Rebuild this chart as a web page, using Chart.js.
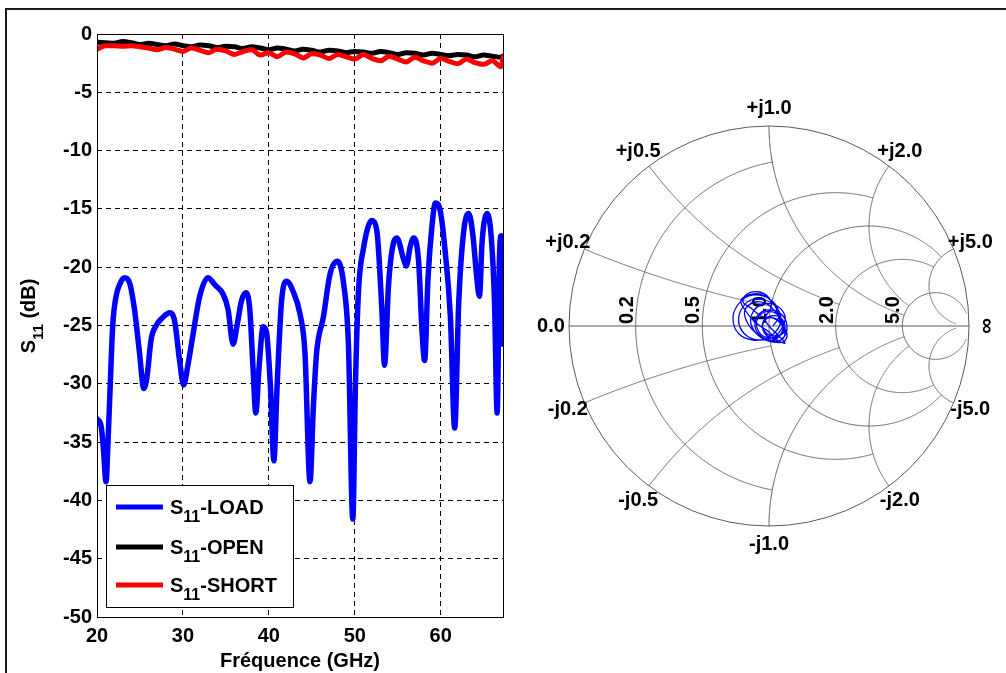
<!DOCTYPE html>
<html>
<head>
<meta charset="utf-8">
<script src="https://cdn.jsdelivr.net/npm/chart.js@4.4.1/dist/chart.umd.min.js"></script>
<style>
  body { margin: 0; background: #fff; width: 1006px; height: 673px; overflow: hidden; position: relative; }
  #frame { position: absolute; left: 5px; top: 8px; width: 1020px; height: 700px; border: 2px solid #1a1a1a; }
  #s11 { position: absolute; left: 0; top: 0; }
  #smith { position: absolute; left: 529px; top: 86px; }
</style>
</head>
<body>
<div id="frame"></div>
<canvas id="s11" width="515" height="673"></canvas>
<canvas id="smith" width="477" height="480"></canvas>
<script>
const FONT = '"Liberation Sans", Arial, Helvetica, sans-serif';

// S11 LOAD (GHz / dB)
const freqLoad = [20.0,20.47,20.74,21.05,21.28,21.52,21.83,22.22,22.68,23.19,23.77,24.36,24.94,25.45,25.80,26.30,26.89,27.67,28.44,29.03,29.61,30.08,30.58,31.17,31.95,32.92,33.70,34.67,35.25,35.84,36.30,36.81,37.32,37.78,38.17,38.48,38.87,39.34,39.73,40.19,40.58,40.97,41.48,42.06,42.84,43.62,44.20,44.79,45.18,45.56,46.34,47.12,47.98,48.68,49.26,49.77,50.08,50.43,51.01,51.98,52.57,53.15,53.46,53.93,54.51,54.90,55.68,55.99,56.46,56.85,57.43,57.82,58.13,58.52,58.98,59.38,59.96,60.54,61.13,61.63,62.10,62.68,63.27,63.77,64.16,64.51,64.82,65.41,65.88,66.26,66.57,66.84,67.04,67.25];
const loadDb = [-33.0,-33.6,-35.5,-38.4,-35.0,-30.5,-25.0,-22.5,-21.4,-20.9,-21.3,-23.6,-27.3,-30.4,-29.5,-26.2,-25.0,-24.3,-23.9,-24.6,-28.0,-30.1,-28.4,-25.8,-22.5,-20.9,-21.5,-22.3,-23.6,-26.6,-25.0,-22.9,-22.2,-23.6,-28.8,-32.5,-28.5,-25.1,-25.6,-30.3,-36.6,-30.0,-22.9,-21.2,-22.1,-24.0,-27.3,-38.4,-32.0,-27.3,-24.3,-20.6,-19.5,-21.3,-26.6,-41.6,-30.0,-22.1,-18.4,-16.0,-16.9,-23.6,-28.4,-21.5,-17.9,-17.5,-19.3,-19.9,-18.2,-17.5,-19.5,-25.4,-28.0,-21.0,-16.5,-14.5,-15.2,-18.8,-24.3,-33.8,-23.0,-16.9,-15.4,-17.4,-20.6,-22.5,-17.8,-15.4,-17.4,-22.9,-32.5,-19.1,-17.3,-26.6];

// S11 OPEN / SHORT
const freqRef = [20,21,22,23,24,25,26,27,28,29,30,31,32,33,34,35,36,37,38,39,40,41,42,43,44,45,46,47,48,49,50,51,52,53,54,55,56,57,58,59,60,61,62,63,64,65,66,67,67.25];
const openDb = [-0.7,-0.75,-0.8,-0.65,-0.75,-0.9,-0.8,-0.9,-1.0,-0.85,-1.0,-1.1,-0.95,-1.0,-1.15,-1.05,-1.1,-1.25,-1.1,-1.2,-1.35,-1.2,-1.3,-1.45,-1.3,-1.4,-1.55,-1.4,-1.45,-1.6,-1.5,-1.55,-1.65,-1.5,-1.6,-1.75,-1.6,-1.65,-1.8,-1.65,-1.75,-1.85,-1.75,-1.8,-1.95,-1.8,-1.9,-2.0,-1.9];
const shortDb = [-1.3,-1.0,-1.0,-1.05,-1.0,-1.1,-1.2,-1.35,-1.15,-1.3,-1.5,-1.2,-1.4,-1.6,-1.3,-1.45,-1.75,-1.5,-1.35,-1.8,-1.6,-1.95,-1.55,-1.7,-2.05,-1.7,-1.8,-2.1,-1.75,-1.95,-2.15,-1.75,-2.1,-2.3,-1.9,-2.15,-2.4,-2.0,-2.3,-2.5,-2.1,-2.35,-2.55,-2.15,-2.45,-2.6,-2.3,-2.8,-2.0];

const xTicks = [20, 30, 40, 50, 60];
const yTicks = [0, -5, -10, -15, -20, -25, -30, -35, -40, -45, -50];
const seriesNames = ['S11-LOAD', 'S11-OPEN', 'S11-SHORT'];

// Smith chart trace (reflection coefficient, real / imag)
const smithRe = [0.02,0.05,0.03,-0.03,-0.10,-0.16,-0.18,-0.15,-0.08,-0.01,0.04,0.06,0.04,-0.02,-0.09,-0.14,-0.15,-0.11,-0.04,0.03,0.07,0.08,0.04,-0.03,-0.08,-0.09,-0.05,0.02,0.07,0.09,0.07,0.01,-0.05,-0.07,-0.04,0.02,0.06,0.07,0.04,-0.02,-0.06,-0.05,0.0,0.05,0.08,0.06,0.01,-0.03,-0.02,0.03,0.07,0.06,0.02,-0.04,-0.09,-0.13,-0.11,-0.05,0.0,0.01,-0.02,0.0,0.04,0.08,0.05,0.03,0.0,-0.07,-0.12,-0.14,-0.08,-0.02,0.03,0.05,0.08,0.06,0.0,-0.06,-0.11,-0.12,-0.07,-0.01,0.04,0.07,0.05,0.01,-0.03,-0.02,0.02,0.06,0.09,0.07,0.02];
const smithIm = [0.0,0.05,0.11,0.15,0.15,0.10,0.03,-0.04,-0.07,-0.06,-0.02,0.03,0.09,0.13,0.13,0.08,0.01,-0.05,-0.07,-0.05,0.0,0.05,0.10,0.11,0.07,0.01,-0.05,-0.08,-0.06,-0.01,0.05,0.08,0.06,0.0,-0.05,-0.07,-0.04,0.01,0.06,0.07,0.03,-0.03,-0.06,-0.05,-0.02,0.04,0.05,0.02,-0.03,-0.05,-0.03,0.02,0.04,0.05,0.09,0.12,0.16,0.17,0.14,0.09,0.04,0.0,-0.04,-0.085,-0.075,-0.06,-0.03,0.02,0.08,0.13,0.16,0.15,0.10,0.04,-0.03,-0.07,-0.07,-0.04,0.02,0.08,0.12,0.11,0.06,0.0,-0.05,-0.06,-0.02,0.03,0.04,0.01,-0.04,-0.08,-0.08];

// Smith grid values (MATLAB style: circle value / where it stops)
const gridValues = [0.2, 0.5, 1.0, 2.0, 5.0];
const gridLimits = [1, 2, 5, 5, 30];

function drawSubText(ctx, x, y, main, sub, rest, size, subSize) {
    ctx.font = 'bold ' + size + 'px ' + FONT;
    ctx.fillText(main, x, y);
    x += ctx.measureText(main).width;
    ctx.font = 'bold ' + subSize + 'px ' + FONT;
    ctx.fillText(sub, x, y + Math.round(size * 0.4));
    x += ctx.measureText(sub).width;
    ctx.font = 'bold ' + size + 'px ' + FONT;
    ctx.fillText(rest, x, y);
}

// legend box, y title and plot frame for the S11 plot
const s11Deco = {
    id: 's11Deco',
    afterDatasetsDraw(chart) {
        const ctx = chart.ctx;
        const a = chart.chartArea;
        ctx.save();
        ctx.strokeStyle = '#000';
        ctx.lineWidth = 1;
        ctx.strokeRect(Math.round(a.left) + 0.5, Math.round(a.top) + 0.5, Math.round(a.right - a.left), Math.round(a.bottom - a.top));

        // legend
        ctx.fillStyle = '#fff';
        ctx.fillRect(106.5, 485.5, 187, 122);
        ctx.strokeRect(106.5, 485.5, 187, 122);
        const rows = [507, 547, 585];
        chart.data.datasets.forEach((ds, i) => {
            ctx.strokeStyle = ds.borderColor;
            ctx.lineWidth = 5;
            ctx.beginPath();
            ctx.moveTo(116, rows[i]);
            ctx.lineTo(163, rows[i]);
            ctx.stroke();
            ctx.fillStyle = '#000';
            ctx.textBaseline = 'alphabetic';
            ctx.textAlign = 'left';
            const name = ds.label;
            drawSubText(ctx, 170, rows[i] + 7, name.slice(0, 1), name.slice(1, 3), name.slice(3), 20, 16);
        });

        // y axis title S11 (dB)
        ctx.translate(35, 316);
        ctx.rotate(-Math.PI / 2);
        ctx.font = 'bold 20px ' + FONT;
        const w1 = ctx.measureText('S').width, w3 = ctx.measureText(' (dB)').width;
        ctx.font = 'bold 15px ' + FONT;
        const w2 = ctx.measureText('11').width;
        ctx.fillStyle = '#000';
        drawSubText(ctx, -(w1 + w2 + w3) / 2, 0, 'S', '11', ' (dB)', 20, 15);
        ctx.restore();
    }
};

new Chart(document.getElementById('s11'), {
    type: 'line',
    data: {
        datasets: [
            { label: seriesNames[0], data: freqLoad.map((f, i) => ({ x: f, y: loadDb[i] })), borderColor: '#0000ff', borderWidth: 5.5, order: 2 },
            { label: seriesNames[1], data: freqRef.map((f, i) => ({ x: f, y: openDb[i] })), borderColor: '#000000', borderWidth: 5, order: 1 },
            { label: seriesNames[2], data: freqRef.map((f, i) => ({ x: f, y: shortDb[i] })), borderColor: '#ff0000', borderWidth: 5, order: 0 }
        ]
    },
    options: {
        responsive: false,
        animation: false,
        layout: { padding: { top: 34, right: 12, bottom: 0, left: 0 } },
        elements: {
            point: { radius: 0 },
            line: { cubicInterpolationMode: 'monotone', borderJoinStyle: 'round', borderCapStyle: 'round' }
        },
        plugins: { legend: { display: false }, tooltip: { enabled: false } },
        scales: {
            x: {
                type: 'linear', min: 20, max: 67.25,
                afterBuildTicks: s => { s.ticks = xTicks.map(v => ({ value: v })); },
                afterFit: s => { s.height = 56; },
                grid: { color: '#000', lineWidth: 1, drawTicks: false },
                border: { display: false, dash: [5, 4] },
                ticks: { color: '#000', padding: 7, maxRotation: 0, font: { family: FONT, size: 20, weight: 'bold' } },
                title: { display: true, text: 'Fréquence (GHz)', color: '#000', padding: { top: 0, bottom: 0 }, font: { family: FONT, size: 20, weight: 'bold' } }
            },
            y: {
                type: 'linear', min: -50, max: 0,
                afterBuildTicks: s => { s.ticks = yTicks.map(v => ({ value: v })); },
                afterFit: s => { s.width = 97; },
                grid: { color: '#000', lineWidth: 1, drawTicks: false },
                border: { display: false, dash: [5, 4] },
                ticks: { color: '#000', padding: 5, font: { family: FONT, size: 20, weight: 'bold' } }
            }
        }
    },
    plugins: [s11Deco]
});

// Smith chart grid and labels
function zToGamma(r, x) {
    const d = (r + 1) * (r + 1) + x * x;
    return [(r * r - 1 + x * x) / d, (2 * x) / d];
}

const smithDeco = {
    id: 'smithDeco',
    beforeDatasetsDraw(chart) {
        const { ctx, scales: { x, y } } = chart;
        const P = (g) => [x.getPixelForValue(g[0]), y.getPixelForValue(g[1])];
        ctx.save();
        ctx.strokeStyle = '#5a5a5a';
        ctx.lineWidth = 1;
        const cx = x.getPixelForValue(0), cy = y.getPixelForValue(0);
        const R = x.getPixelForValue(1) - cx;
        ctx.beginPath();
        ctx.arc(cx, cy, R, 0, Math.PI * 2);
        ctx.stroke();
        ctx.beginPath();
        ctx.moveTo(cx - R, cy);
        ctx.lineTo(cx + R, cy);
        ctx.stroke();
        const N = 800;
        gridValues.forEach((v, k) => {
            const lim = gridLimits[k];
            // constant resistance
            ctx.beginPath();
            for (let i = 0; i <= N; i++) {
                const p = P(zToGamma(v, -lim + 2 * lim * i / N));
                if (i === 0) ctx.moveTo(p[0], p[1]); else ctx.lineTo(p[0], p[1]);
            }
            ctx.stroke();
            // constant reactance (+ and -)
            [1, -1].forEach(sg => {
                ctx.beginPath();
                for (let i = 0; i <= N; i++) {
                    const p = P(zToGamma(lim * i / N, sg * v));
                    if (i === 0) ctx.moveTo(p[0], p[1]); else ctx.lineTo(p[0], p[1]);
                }
                ctx.stroke();
            });
        });

        // labels (under the trace)
        ctx.fillStyle = '#000';
        ctx.font = 'bold 20px ' + FONT;
        ctx.textAlign = 'center';
        ctx.textBaseline = 'middle';
        gridValues.forEach(v => {
            [1, -1].forEach(sg => {
                const g = zToGamma(0, sg * v);
                const lbl = (sg > 0 ? '+j' : '-j') + v.toFixed(1);
                ctx.fillText(lbl, cx + g[0] * R * 1.09, cy - g[1] * R * 1.09);
            });
        });
        ctx.fillText('0.0', cx - R * 1.09, cy);
        gridValues.forEach(v => {
            const g = zToGamma(v, 0);
            ctx.save();
            ctx.translate(cx + g[0] * R - 3, cy - 2);
            ctx.rotate(-Math.PI / 2);
            ctx.textAlign = 'left';
            ctx.textBaseline = 'alphabetic';
            ctx.fillText(v.toFixed(1), 0, 0);
            ctx.restore();
        });
        ctx.translate(cx + R * 1.09, cy);
        ctx.rotate(-Math.PI / 2);
        ctx.font = 'bold 22px ' + FONT;
        ctx.fillText('\u221e', 0, 0);
        ctx.restore();
    }
};

new Chart(document.getElementById('smith'), {
    type: 'scatter',
    data: {
        datasets: [{
            label: seriesNames[0],
            data: smithRe.map((re, i) => ({ x: re, y: smithIm[i] })),
            showLine: true,
            borderColor: '#0000ff',
            borderWidth: 1.3,
            tension: 0.4,
            pointRadius: 0
        }]
    },
    options: {
        responsive: false,
        animation: false,
        layout: { padding: { top: 40, left: 40, right: 37, bottom: 40 } },
        plugins: { legend: { display: false }, tooltip: { enabled: false } },
        scales: {
            x: { type: 'linear', min: -1, max: 1, display: false },
            y: { type: 'linear', min: -1, max: 1, display: false }
        }
    },
    plugins: [smithDeco]
});
</script>
</body>
</html>
